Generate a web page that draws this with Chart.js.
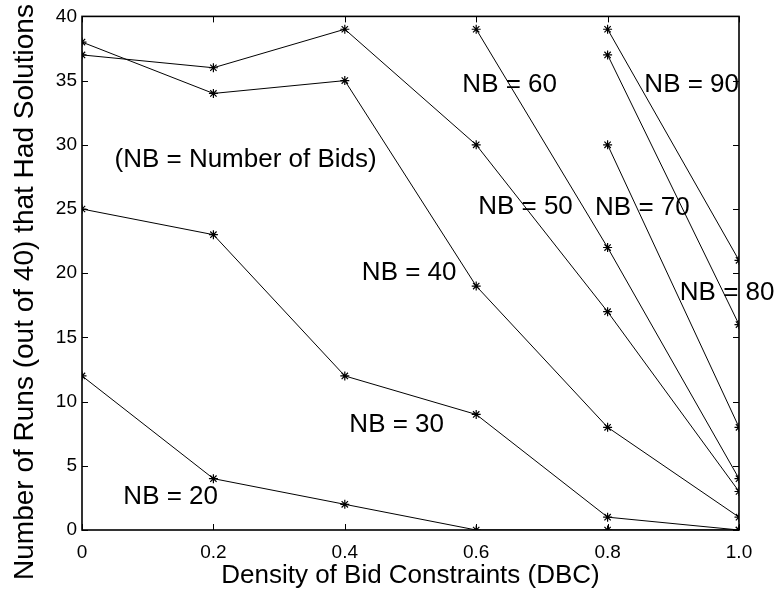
<!DOCTYPE html>
<html>
<head>
<meta charset="utf-8">
<script src="https://cdn.jsdelivr.net/npm/chart.js@4.4.1/dist/chart.umd.min.js"></script>
<style>
  html, body { margin: 0; padding: 0; background: #fff; }
  #wrap { width: 777px; height: 594px; }
</style>
</head>
<body>
<div id="wrap"><canvas id="chart" width="777" height="594"></canvas></div>
<script>
// x categories (density of bid constraints)
const dbc = [0, 0.2, 0.4, 0.6, 0.8, 1.0];
const xTickLabels = ['0', '0.2', '0.4', '0.6', '0.8', '1.0'];
const yTicks = [0, 5, 10, 15, 20, 25, 30, 35, 40];

// runs (out of 40) that had solutions, one array per number of bids
const nb20 = [12, 4, 2, 0, 0, 0];
const nb30 = [25, 23, 12, 9, 1, 0];
const nb40 = [38, 34, 35, 19, 8, 1];
const nb50 = [37, 36, 39, 30, 17, 3];
const nb60 = [null, null, null, 39, 22, 4];
const nb70 = [null, null, null, null, 30, 8];
const nb80 = [null, null, null, null, 37, 16];
const nb90 = [null, null, null, null, 39, 21];

// text notes placed on the plot, in data units
const notes = [
  { text: 'NB = 20', x: 0.135, y: 2.6 },
  { text: 'NB = 30', x: 0.479, y: 8.2 },
  { text: 'NB = 40', x: 0.498, y: 20.0 },
  { text: 'NB = 50', x: 0.675, y: 25.2 },
  { text: 'NB = 60', x: 0.651, y: 34.7 },
  { text: 'NB = 70', x: 0.853, y: 25.1 },
  { text: 'NB = 80', x: 0.982, y: 18.5 },
  { text: 'NB = 90', x: 0.928, y: 34.7 },
  { text: '(NB = Number of Bids)', x: 0.249, y: 28.8 }
];

const yTitle = 'Number of Runs (out of 40) that Had Solutions';

const FONT = "'Liberation Sans', Arial, Helvetica, sans-serif";

function toPoints(vals) {
  const pts = [];
  vals.forEach((v, i) => {
    if (v !== null) pts.push({ x: dbc[i], y: v });
  });
  return pts;
}

const series = [
  ['NB = 20', nb20], ['NB = 30', nb30], ['NB = 40', nb40], ['NB = 50', nb50],
  ['NB = 60', nb60], ['NB = 70', nb70], ['NB = 80', nb80], ['NB = 90', nb90]
];

// box around the plot, inward ticks, the text notes and the y title
const matlabBox = {
  id: 'matlabBox',
  afterDatasetsDraw(chart) {
    const { ctx, chartArea: a, scales: { x, y } } = chart;
    ctx.save();
    ctx.strokeStyle = '#000';
    ctx.lineWidth = 1;
    const tl = 6;
    ctx.beginPath();
    dbc.forEach(v => {
      const px = Math.round(x.getPixelForValue(v)) + 0.5;
      ctx.moveTo(px, a.bottom); ctx.lineTo(px, a.bottom - tl);
      ctx.moveTo(px, a.top); ctx.lineTo(px, a.top + tl);
    });
    yTicks.forEach(v => {
      const py = Math.round(y.getPixelForValue(v)) + 0.5;
      ctx.moveTo(a.left, py); ctx.lineTo(a.left + tl, py);
      ctx.moveTo(a.right, py); ctx.lineTo(a.right - tl, py);
    });
    ctx.stroke();
    ctx.lineWidth = 1.6;
    ctx.strokeRect(a.left, a.top, a.right - a.left, a.bottom - a.top);

    ctx.fillStyle = '#000';
    ctx.font = '26px ' + FONT;
    ctx.textAlign = 'center';
    ctx.textBaseline = 'middle';
    notes.forEach(n => {
      ctx.fillText(n.text, x.getPixelForValue(n.x), y.getPixelForValue(n.y));
    });

    // y title sits a bit below the plot centre, as in the original
    ctx.font = '28px ' + FONT;
    ctx.translate(25, 292);
    ctx.rotate(-Math.PI / 2);
    ctx.fillText(yTitle, 0, 0);
    ctx.restore();
  }
};

new Chart(document.getElementById('chart'), {
  type: 'scatter',
  data: {
    datasets: series.map(([name, vals]) => ({
      label: name,
      data: toPoints(vals),
      showLine: true,
      borderColor: '#000',
      backgroundColor: '#000',
      borderWidth: 1,
      pointStyle: 'star',
      pointRadius: 4.5,
      pointBorderWidth: 1.2,
      pointBorderColor: '#000',
      tension: 0
    }))
  },
  options: {
    responsive: false,
    animation: false,
    layout: { padding: { left: 0, right: 38, top: 13, bottom: 0 } },
    plugins: {
      legend: { display: false },
      tooltip: { enabled: false }
    },
    scales: {
      x: {
        type: 'linear',
        min: 0,
        max: 1,
        afterBuildTicks: s => { s.ticks = dbc.map(v => ({ value: v })); },
        afterFit: s => { s.height = 64; },
        grid: { display: false, drawTicks: false },
        border: { display: false },
        ticks: {
          color: '#000',
          font: { family: FONT, size: 19 },
          padding: 11,
          maxRotation: 0,
          callback: (v, i) => xTickLabels[i]
        },
        title: {
          display: true,
          text: 'Density of Bid Constraints (DBC)',
          color: '#000',
          font: { family: FONT, size: 26 },
          padding: { top: 0, bottom: 3 }
        }
      },
      y: {
        min: 0,
        max: 40,
        afterBuildTicks: s => { s.ticks = yTicks.map(v => ({ value: v })); },
        afterFit: s => { s.width = 82; },
        grid: { display: false, drawTicks: false },
        border: { display: false },
        ticks: {
          color: '#000',
          font: { family: FONT, size: 19 },
          padding: 5
        }
      }
    }
  },
  plugins: [matlabBox]
});
</script>
</body>
</html>
